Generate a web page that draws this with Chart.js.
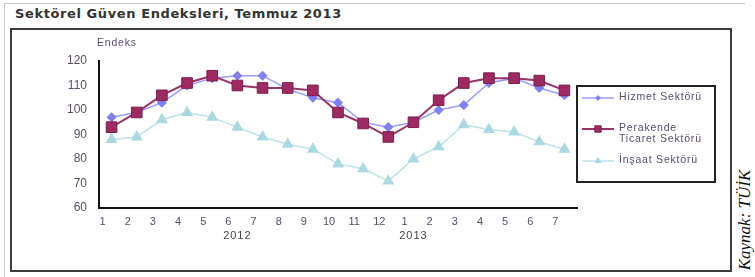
<!DOCTYPE html>
<html>
<head>
<meta charset="utf-8">
<script src="https://cdn.jsdelivr.net/npm/chart.js@4.4.0/dist/chart.umd.min.js"></script>
<style>
  body { margin: 0; background: #fff; }
  #wrap { position: relative; width: 755px; height: 277px; overflow: hidden; }
  #frame { position: absolute; left: 4px; top: 3px; width: 740px; height: 290px;
           border-left: 1px solid #c8c8c8; border-top: 1px solid #c8c8c8; }
  #title { position: absolute; left: 15px; top: 6px; font: bold 13px "DejaVu Sans";
           letter-spacing: 0.6px; color: #333; white-space: nowrap; }
  #box { position: absolute; left: 10px; top: 28px; width: 718px; height: 240px;
         border: 2px solid #3c3c3c; }
  #source { position: absolute; left: 745px; top: 220px; white-space: nowrap;
            transform: translate(-50%, -50%) rotate(-90deg);
            font: italic 17px "Liberation Serif"; color: #111; }
  canvas { position: absolute; left: 0; top: 0; }
</style>
</head>
<body>
<div id="wrap">
  <div id="frame"></div>
  <div id="title">Sektörel Güven Endeksleri, Temmuz 2013</div>
  <div id="box"></div>
  <div id="source">Kaynak: TÜİK</div>
  <canvas id="chart" width="755" height="277"></canvas>
</div>
<script>
// months: 2012/1 .. 2013/7
const months = ["1", "2", "3", "4", "5", "6", "7", "8", "9", "10", "11", "12",
                "1", "2", "3", "4", "5", "6", "7"];
const years = ["2012", "2013"];
const yearAt = [5, 12];
const seriesNames = ["Hizmet Sektörü", "Perakende Ticaret Sektörü", "İnşaat Sektörü"];
const hizmet = [97, 99, 103, 110, 113, 114, 114, 108.5, 105, 103, 95, 93, 95, 100, 102, 111, 113, 109, 106];
const perakende = [93, 99, 106, 111, 114, 110, 109, 109, 108, 99, 94.5, 89, 95, 104, 111, 113, 113, 112, 108];
const insaat = [88, 89, 96, 99, 97, 93, 89, 86, 84, 78, 76, 71, 80, 85, 94, 92, 91, 87, 84];

const textColor = "#5a4d66";

// year captions under the month labels
const yearLabels = {
  id: "yearLabels",
  afterDraw(chart) {
    const ctx = chart.ctx;
    const x = chart.scales.x;
    ctx.save();
    ctx.font = "11px 'Liberation Sans'";
    ctx.letterSpacing = "1px";
    ctx.fillStyle = "#444";
    ctx.textAlign = "center";
    ctx.textBaseline = "middle";
    years.forEach((y, i) => {
      ctx.fillText(y, x.getPixelForValue(yearAt[i]), chart.chartArea.bottom + 28);
    });
    ctx.restore();
  }
};

// boxed legend to the right of the plot
const boxLegend = {
  id: "boxLegend",
  afterDraw(chart) {
    const ctx = chart.ctx;
    const left = 577, top = 86, right = 715, bottom = 182;
    ctx.save();
    ctx.lineWidth = 2;
    ctx.strokeStyle = "#222";
    ctx.strokeRect(left, top, right - left, bottom - top);
    ctx.font = "10.5px 'Liberation Sans'";
    ctx.letterSpacing = "0.8px";
    ctx.textBaseline = "middle";
    const rows = [98, 129, 161];
    chart.data.datasets.forEach((ds, i) => {
      const y = rows[i];
      ctx.strokeStyle = ds.borderColor;
      ctx.lineWidth = ds.borderWidth;
      ctx.beginPath();
      ctx.moveTo(left + 5, y);
      ctx.lineTo(left + 37, y);
      ctx.stroke();
      ctx.fillStyle = ds.pointBackgroundColor;
      ctx.strokeStyle = ds.pointBorderColor;
      ctx.lineWidth = 1;
      Chart.helpers.drawPoint(ctx, {
        pointStyle: ds.pointStyle,
        radius: ds.pointRadius * 0.6,
        rotation: 0,
        borderWidth: 1
      }, left + 21, y);
      // wrap long names
      const words = ds.label.split(" ");
      const lines = [];
      let cur = "";
      words.forEach(w => {
        const t = cur ? cur + " " + w : w;
        if (cur && ctx.measureText(t).width > right - left - 46) {
          lines.push(cur);
          cur = w;
        } else {
          cur = t;
        }
      });
      lines.push(cur);
      ctx.fillStyle = textColor;
      lines.forEach((l, k) => ctx.fillText(l, left + 42, y - 1 + k * 11));
    });
    ctx.restore();
  }
};

new Chart(document.getElementById("chart"), {
  type: "line",
  data: {
    labels: months,
    datasets: [
      {
        label: seriesNames[0],
        data: hizmet,
        borderColor: "#9c9cff",
        borderWidth: 1.5,
        pointStyle: "rectRot",
        pointRadius: 4,
        pointBackgroundColor: "#8080f0",
        pointBorderColor: "#8080f0",
        order: 1
      },
      {
        label: seriesNames[1],
        data: perakende,
        borderColor: "#993366",
        borderWidth: 2,
        pointStyle: "rect",
        pointRadius: 7.5,
        pointBackgroundColor: "#9e2a62",
        pointBorderColor: "#7a1f4c",
        pointBorderWidth: 1,
        order: 0
      },
      {
        label: seriesNames[2],
        data: insaat,
        borderColor: "#bde2ea",
        borderWidth: 1.5,
        pointStyle: "triangle",
        pointRadius: 5.5,
        pointBackgroundColor: "#abd9e2",
        pointBorderColor: "#abd9e2",
        order: 2
      }
    ]
  },
  options: {
    responsive: false,
    animation: false,
    layout: { padding: { left: 0, right: 178, top: 61, bottom: 39 } },
    plugins: {
      legend: { display: false },
      tooltip: { enabled: false },
      title: { display: false }
    },
    scales: {
      x: {
        type: "category",
        offset: true,
        grid: { display: false, drawTicks: false },
        border: { display: true, color: "#111", width: 2 },
        ticks: {
          color: textColor,
          font: { family: "Liberation Sans", size: 11 },
          padding: 7,
          labelOffset: -9,
          maxRotation: 0,
          autoSkip: false
        },
        afterFit(scale) { scale.height = 30; }
      },
      y: {
        min: 60,
        max: 120,
        grid: { display: false, drawTicks: false },
        border: { display: true, color: "#111", width: 2 },
        ticks: {
          stepSize: 10,
          color: textColor,
          font: { family: "Liberation Sans", size: 12 },
          padding: 12
        },
        title: { display: false },
        afterFit(scale) { scale.width = 99; }
      }
    }
  },
  plugins: [yearLabels, boxLegend, {
    id: "axisTitle",
    afterDraw(chart) {
      const ctx = chart.ctx;
      ctx.save();
      ctx.font = "10.5px 'Liberation Sans'";
      ctx.letterSpacing = "0.8px";
      ctx.fillStyle = textColor;
      ctx.textBaseline = "middle";
      ctx.fillText("Endeks", 97, 43);
      ctx.restore();
    }
  }]
});
</script>
</body>
</html>
